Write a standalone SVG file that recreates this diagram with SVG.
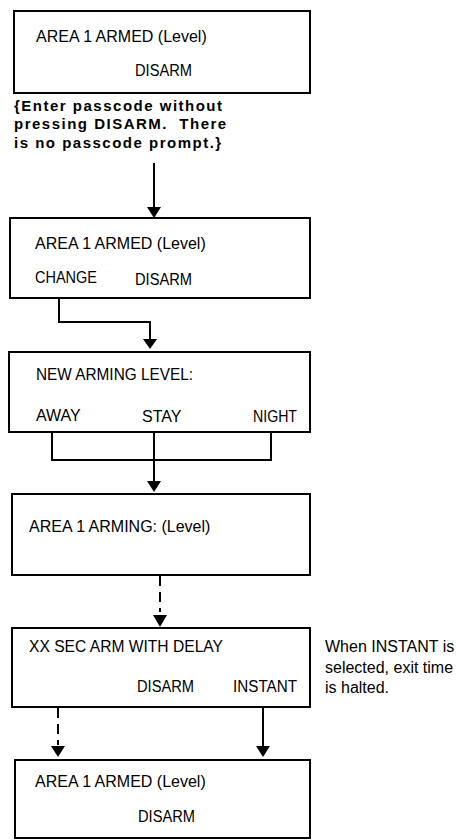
<svg xmlns="http://www.w3.org/2000/svg" width="456" height="840" viewBox="0 0 456 840">
<style>
.box{fill:#fff;stroke:#000;stroke-width:2}
.t{font-family:"Liberation Sans",Arial,sans-serif;font-size:16px;fill:#000}
.n{font-family:"Liberation Sans",Arial,sans-serif;font-size:15px;font-weight:bold;fill:#000;letter-spacing:1.5px;white-space:pre}
.c{fill:none;stroke:#000;stroke-width:2}
.d{fill:none;stroke:#000;stroke-width:2;stroke-dasharray:10 6}
.ah{fill:#000;stroke:none}
</style>
<rect width="456" height="840" fill="#fff"/>
<g id="connectors">
<line class="c" x1="154" y1="163" x2="154" y2="210"/>
<polygon class="ah" points="147,207 161,207 154,218"/>
<polyline class="c" points="59,298 59,322 150,322 150,341"/>
<polygon class="ah" points="143,339 157,339 150,349"/>
<polyline class="c" points="52,432 52,460 271,460 271,432"/>
<line class="c" x1="154" y1="432" x2="154" y2="484"/>
<polygon class="ah" points="147,481 161,481 154,492"/>
<line class="d" x1="160" y1="576" x2="160" y2="612"/>
<polygon class="ah" points="153,615 167,615 160,627"/>
<line class="d" x1="58" y1="708" x2="58" y2="745"/>
<polygon class="ah" points="51,746 65,746 58,757"/>
<line class="c" x1="263" y1="707" x2="263" y2="748"/>
<polygon class="ah" points="256,746 270,746 263,757"/>
</g>
<g id="node1">
<rect class="box" x="14" y="11" width="296" height="82"/>
<text class="t" x="36" y="42">AREA 1 ARMED (Level)</text>
<text class="t" x="135" y="76" textLength="57" lengthAdjust="spacingAndGlyphs">DISARM</text>
</g>
<g id="note1">
<text class="n" x="14" y="111" xml:space="preserve">{Enter passcode without</text>
<text class="n" x="14" y="129" xml:space="preserve">pressing DISARM.  There</text>
<text class="n" x="14" y="148" xml:space="preserve">is no passcode prompt.}</text>
</g>
<g id="node2">
<rect class="box" x="10" y="218" width="300" height="80"/>
<text class="t" x="35" y="249">AREA 1 ARMED (Level)</text>
<text class="t" x="35" y="283" textLength="62" lengthAdjust="spacingAndGlyphs">CHANGE</text>
<text class="t" x="135" y="285" textLength="57" lengthAdjust="spacingAndGlyphs">DISARM</text>
</g>
<g id="node3">
<rect class="box" x="9" y="352" width="301" height="80"/>
<text class="t" x="36" y="380" textLength="157" lengthAdjust="spacingAndGlyphs">NEW ARMING LEVEL:</text>
<text class="t" x="36" y="421">AWAY</text>
<text class="t" x="142" y="422">STAY</text>
<text class="t" x="253" y="422" textLength="44" lengthAdjust="spacingAndGlyphs">NIGHT</text>
</g>
<g id="node4">
<rect class="box" x="12" y="494" width="298" height="81"/>
<text class="t" x="29" y="532">AREA 1 ARMING: (Level)</text>
</g>
<g id="node5">
<rect class="box" x="12" y="628" width="298" height="79"/>
<text class="t" x="29" y="652" textLength="194" lengthAdjust="spacingAndGlyphs">XX SEC ARM WITH DELAY</text>
<text class="t" x="137" y="692" textLength="57" lengthAdjust="spacingAndGlyphs">DISARM</text>
<text class="t" x="233" y="692" textLength="64" lengthAdjust="spacingAndGlyphs">INSTANT</text>
</g>
<g id="note2">
<text class="t" x="325" y="652">When INSTANT is</text>
<text class="t" x="325" y="673">selected, exit time</text>
<text class="t" x="325" y="693">is halted.</text>
</g>
<g id="node6">
<rect class="box" x="15" y="760" width="295" height="78"/>
<text class="t" x="35" y="787">AREA 1 ARMED (Level)</text>
<text class="t" x="138" y="822" textLength="57" lengthAdjust="spacingAndGlyphs">DISARM</text>
</g>
</svg>
